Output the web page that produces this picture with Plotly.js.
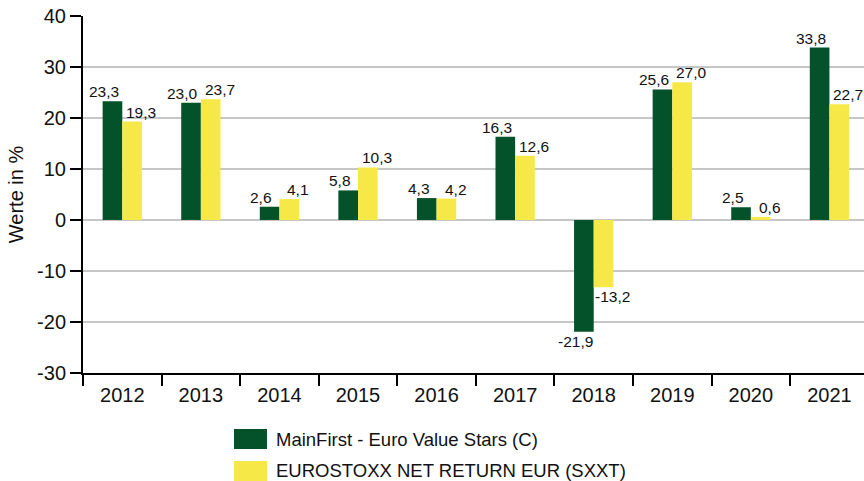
<!DOCTYPE html>
<html>
<head>
<meta charset="utf-8">
<script src="https://cdn.plot.ly/plotly-3.0.1.min.js"></script>
<style>html,body{margin:0;padding:0;background:#fff;}#chart{width:864px;height:481px;}</style>
</head>
<body>
<div id="chart"></div>
<script>
const years = ['2012','2013','2014','2015','2016','2017','2018','2019','2020','2021'];
const fundName = 'MainFirst - Euro Value Stars (C)';
const benchName = 'EUROSTOXX NET RETURN EUR (SXXT)';
const fundValues = [23.3, 23.0, 2.6, 5.8, 4.3, 16.3, -21.9, 25.6, 2.5, 33.8];
const benchValues = [19.3, 23.7, 4.1, 10.3, 4.2, 12.6, -13.2, 27.0, 0.6, 22.7];
const yTicks = [-30, -20, -10, 0, 10, 20, 30, 40];

const GREEN = '#04522a';
const YELLOW = '#f6e947';
const FONT = 'Liberation Sans, Arial, sans-serif';

const fmt = v => v.toFixed(1).replace('.', ',');

const traces = [
  {type: 'bar', name: fundName, x: years, y: fundValues, marker: {color: GREEN}, hoverinfo: 'skip'},
  {type: 'bar', name: benchName, x: years, y: benchValues, marker: {color: YELLOW}, hoverinfo: 'skip'}
];

const annotations = [];
function addLabels(vals, shift) {
  vals.forEach((v, i) => {
    annotations.push({
      x: i, y: v, xref: 'x', yref: 'y',
      text: fmt(v), showarrow: false,
      xanchor: 'center', yanchor: v >= 0 ? 'bottom' : 'top',
      xshift: shift, yshift: v >= 0 ? -1 : 1,
      font: {family: FONT, size: 15.5, color: '#111'}
    });
  });
}
addLabels(fundValues, -18);
addLabels(benchValues, 19);

// legend (manual)
const W = 781, H = 357;
const px = x => (x - 83) / W;
const py = y => (373 - y) / H;
const shapes = [
  {type: 'rect', xref: 'paper', yref: 'paper', x0: px(234), x1: px(267), y0: py(449), y1: py(429), fillcolor: GREEN, line: {width: 0}},
  {type: 'rect', xref: 'paper', yref: 'paper', x0: px(234), x1: px(267), y0: py(481), y1: py(461), fillcolor: YELLOW, line: {width: 0}}
];
annotations.push({xref: 'paper', yref: 'paper', x: px(274), y: py(439), xanchor: 'left', yanchor: 'middle', text: fundName, showarrow: false, font: {family: FONT, size: 18.5, color: '#111'}});
annotations.push({xref: 'paper', yref: 'paper', x: px(274), y: py(471), xanchor: 'left', yanchor: 'middle', text: benchName, showarrow: false, font: {family: FONT, size: 18.5, color: '#111'}});

const layout = {
  width: 864, height: 481,
  margin: {l: 83, r: 0, t: 16, b: 108, pad: 0},
  paper_bgcolor: '#fff', plot_bgcolor: '#fff',
  showlegend: false,
  barmode: 'group', bargap: 0.5, bargroupgap: 0,
  font: {family: FONT, color: '#111'},
  xaxis: {
    type: 'category', range: [-0.5, 9.44],
    showline: true, linecolor: '#000', linewidth: 2,
    ticks: 'outside', tickson: 'boundaries', ticklen: 11, tickwidth: 2, tickcolor: '#000',
    tickfont: {family: FONT, size: 20, color: '#111'}, ticklabelstandoff: 3,
    showgrid: false, zeroline: false, fixedrange: true
  },
  yaxis: {
    range: [-30, 40], tickvals: yTicks, ticktext: yTicks.map(String),
    showline: true, linecolor: '#000', linewidth: 2,
    ticks: 'outside', ticklen: 11, tickwidth: 2, tickcolor: '#000',
    tickfont: {family: FONT, size: 20, color: '#111'},
    showgrid: true, gridcolor: '#c6c6c6', gridwidth: 2,
    zeroline: true, zerolinecolor: '#c6c6c6', zerolinewidth: 2,
    title: {text: 'Werte in %', font: {family: FONT, size: 20, color: '#111'}, standoff: 8},
    fixedrange: true
  },
  shapes: shapes,
  annotations: annotations
};

Plotly.newPlot('chart', traces, layout, {staticPlot: true, displayModeBar: false});
</script>
</body>
</html>
